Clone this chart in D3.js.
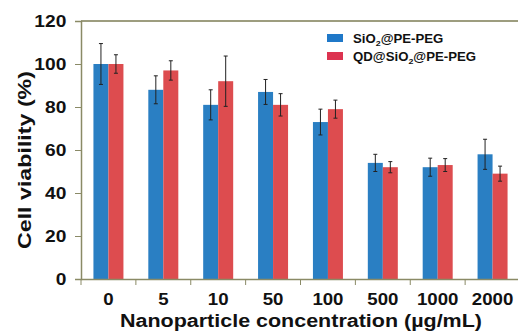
<!DOCTYPE html>
<html>
<head>
<meta charset="utf-8">
<script src="https://cdn.jsdelivr.net/npm/d3@7"></script>
<style>
  body { margin: 0; background: #fff; }
  text { font-family: Arial, "Liberation Sans", sans-serif; font-weight: bold; fill: #111; }
</style>
</head>
<body>
<div id="container"></div>
<script>
// data
const concentrations = ["0", "5", "10", "50", "100", "500", "1000", "2000"];
const seriesNames = ["SiO2@PE-PEG", "QD@SiO2@PE-PEG"];
const sioValues = [100, 88, 81, 87, 73, 54, 52, 58];
const sioErrors = [9.5, 6.5, 7, 5.8, 6, 4, 4.2, 7];
const qdValues = [100, 97, 92, 81, 79, 52, 53, 49];
const qdErrors = [4.3, 4.5, 11.7, 5.2, 4.2, 2.6, 3, 3.5];
const yTicks = [0, 20, 40, 60, 80, 100, 120];

const width = 518, height = 333;
const margin = {top: 21, right: -2, bottom: 54, left: 81};
const colors = ["#2a7fc3", "#dd4c4f"];
const legendColors = ["#1f78c8", "#dc3350"];
const stretch = 1.13; // the original type is a bit wide

const svg = d3.select("#container").append("svg")
    .attr("width", width)
    .attr("height", height);

const x = d3.scaleBand()
    .domain(concentrations)
    .range([margin.left, width - margin.right]);

const y = d3.scaleLinear()
    .domain([0, 120])
    .range([height - margin.bottom, margin.top]);

const barW = 15;

// top frame line
svg.append("line")
    .attr("x1", margin.left).attr("x2", width)
    .attr("y1", y(120)).attr("y2", y(120))
    .attr("stroke", "#7d7d55").attr("stroke-width", 1.5);

const series = [
  {values: sioValues, errors: sioErrors, offset: -barW},
  {values: qdValues, errors: qdErrors, offset: 0}
];

series.forEach((s, si) => {
  const g = svg.append("g");
  g.selectAll("rect")
    .data(concentrations)
    .join("rect")
    .attr("x", d => x(d) + x.bandwidth() / 2 + s.offset)
    .attr("y", (d, i) => y(s.values[i]))
    .attr("width", barW)
    .attr("height", (d, i) => y(0) - y(s.values[i]))
    .attr("fill", colors[si]);

  // error bars
  concentrations.forEach((d, i) => {
    const cx = x(d) + x.bandwidth() / 2 + s.offset + barW / 2;
    const top = y(s.values[i] + s.errors[i]);
    const bot = y(s.values[i] - s.errors[i]);
    g.append("line").attr("x1", cx).attr("x2", cx).attr("y1", top).attr("y2", bot)
      .attr("stroke", "#222").attr("stroke-width", 1);
    [top, bot].forEach(yy => {
      g.append("line").attr("x1", cx - 2).attr("x2", cx + 2).attr("y1", yy).attr("y2", yy)
        .attr("stroke", "#222").attr("stroke-width", 1);
    });
  });
});

// y axis
const yaxis = d3.axisLeft(y).tickValues(yTicks).tickSize(6).tickPadding(7);
const yg = svg.append("g")
    .attr("transform", "translate(" + margin.left + ",0)")
    .call(yaxis);
yg.select(".domain").attr("stroke", "#8a8a66").attr("stroke-width", 1.5);
yg.selectAll(".tick line").attr("stroke", "#8a8a66");
yg.selectAll(".tick text")
    .style("font-size", "17px").attr("fill", "#111")
    .attr("transform", "scale(" + stretch + ",1)");

// x axis, ticks at band boundaries
const xaxis = d3.axisBottom(x).tickSize(0).tickPadding(14);
const xg = svg.append("g")
    .attr("transform", "translate(0," + y(0) + ")")
    .call(xaxis);
xg.select(".domain").attr("stroke", "#8a8a66").attr("stroke-width", 1.5);
xg.selectAll(".tick text")
    .style("font-size", "16.5px").attr("fill", "#111")
    .attr("transform", "scale(" + stretch + ",1)");
concentrations.forEach(d => {
  xg.append("line")
    .attr("x1", x(d)).attr("x2", x(d))
    .attr("y1", 0).attr("y2", 6)
    .attr("stroke", "#8a8a66");
});

// axis titles
svg.append("text")
    .attr("transform", "translate(31,160) rotate(-90)")
    .attr("text-anchor", "middle")
    .attr("textLength", 178)
    .attr("lengthAdjust", "spacingAndGlyphs")
    .style("font-size", "18px")
    .text("Cell  viability (%)");

svg.append("text")
    .attr("x", 301)
    .attr("y", 327)
    .attr("text-anchor", "middle")
    .attr("textLength", 362)
    .attr("lengthAdjust", "spacingAndGlyphs")
    .style("font-size", "18px")
    .text("Nanoparticle concentration (\u00b5g/mL)");

// legend
const legend = svg.append("g").attr("transform", "translate(327,34)");
const legendParts = [["SiO", "2", "@PE-PEG"], ["QD@SiO", "2", "@PE-PEG"]];
legendParts.forEach((p, i) => {
  legend.append("rect")
    .attr("x", 0).attr("y", i * 18)
    .attr("width", 16).attr("height", 8)
    .attr("fill", legendColors[i]);
  const t = legend.append("text")
    .attr("transform", "translate(26," + (i * 18 + 9) + ") scale(1.1,1)")
    .style("font-size", "12px");
  t.append("tspan").text(p[0]);
  t.append("tspan").attr("dy", 3).style("font-size", "8px").text(p[1]);
  t.append("tspan").attr("dy", -3).text(p[2]);
});
</script>
</body>
</html>
